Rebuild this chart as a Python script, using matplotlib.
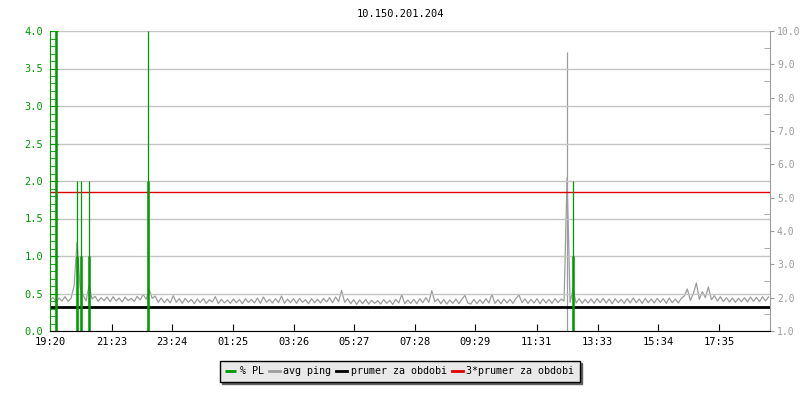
"""Packet loss / ping chart for 10.150.201.204."""

import matplotlib

matplotlib.use("Agg")
import numpy as np
from matplotlib import pyplot as plt
from matplotlib.ticker import MultipleLocator, FormatStrFormatter

TITLE = "10.150.201.204"

# x axis: minutes after 19:20
tick_minutes = [0, 123, 244, 365, 486, 607, 728, 849, 971, 1093, 1214, 1335]
tick_labels = ["19:20", "21:23", "23:24", "01:25", "03:26", "05:27",
               "07:28", "09:29", "11:31", "13:33", "15:34", "17:35"]
x_end = 1437

# % PL events (minute, average, max)
pl_minutes = [12, 54, 62, 78, 195, 1043]
pl_avg = [4.0, 1.0, 1.0, 1.0, 2.0, 1.0]
pl_max = [4.0, 2.0, 2.0, 2.0, 4.0, 2.0]

# avg ping (ms), one sample every 6 minutes
ping_step = 6
ping_ms = [
    1.92, 2.01, 1.88, 1.99, 1.90, 2.03, 1.89, 1.98, 2.35, 3.67,
    2.30, 2.08, 1.90, 2.36, 1.96, 2.04, 1.89, 2.00, 1.91, 2.02,
    1.88, 2.03, 1.90, 1.99, 1.87, 2.02, 1.91, 1.98, 1.89, 2.04,
    1.93, 2.10, 1.95, 2.24, 1.98, 2.05, 1.86, 1.99, 1.85, 1.96,
    1.84, 2.06, 1.86, 1.97, 1.83, 1.98, 1.86, 1.95, 1.82, 1.96,
    1.85, 1.97, 1.83, 1.94, 1.87, 2.03, 1.82, 1.95, 1.84, 1.93,
    1.83, 1.96, 1.85, 1.94, 1.82, 1.97, 1.86, 1.95, 1.84, 1.99,
    1.83, 2.02, 1.86, 1.95, 1.84, 1.97, 1.85, 2.05, 1.83, 1.96,
    1.85, 1.97, 1.83, 1.98, 1.86, 1.94, 1.82, 1.97, 1.85, 1.95,
    1.84, 1.98, 1.87, 2.00, 1.85, 2.02, 1.88, 2.22, 1.86, 1.97,
    1.82, 1.94, 1.80, 1.93, 1.82, 1.95, 1.81, 1.92, 1.83, 1.91,
    1.81, 1.94, 1.83, 1.92, 1.80, 1.95, 1.84, 2.09, 1.82, 1.93,
    1.83, 1.95, 1.82, 1.97, 1.85, 2.00, 1.86, 2.21, 1.88, 1.96,
    1.82, 1.94, 1.81, 1.93, 1.83, 1.96, 1.82, 1.95, 2.07, 1.84,
    1.81, 1.95, 1.82, 1.94, 1.83, 1.97, 1.84, 2.10, 1.83, 1.94,
    1.82, 1.96, 1.84, 1.95, 1.83, 1.98, 2.08, 1.85, 1.96, 1.83,
    1.95, 1.84, 1.97, 1.82, 1.96, 1.84, 1.95, 1.83, 1.97, 1.85,
    1.96, 1.90, 5.60, 1.86, 2.27, 1.84, 1.97, 1.83, 1.95, 1.84,
    1.96, 1.83, 1.97, 1.85, 1.98, 1.84, 1.96, 1.82, 1.97, 1.85,
    1.95, 1.83, 1.97, 1.84, 1.99, 1.85, 1.96, 1.83, 1.98, 1.85,
    1.96, 1.84, 1.98, 1.86, 1.97, 1.83, 1.99, 1.85, 1.96, 1.84,
    1.98, 2.05, 2.26, 1.92, 2.12, 2.44, 1.95, 2.18, 2.00, 2.32,
    1.94, 2.06, 1.90, 2.03, 1.88, 2.00, 1.87, 1.99, 1.86, 1.98,
    1.88, 2.00, 1.87, 2.02, 1.89, 2.01, 1.88, 2.03, 1.90, 2.02,
]
# thin max spikes of avg ping
ping_max_minutes = [1032]
ping_max_ms = [9.37]

ping_mean = 1.72
ping_mean3 = 5.16

GREEN = "#009900"
GREY = "#9c9c9c"
RED = "#e00000"
FONT = "DejaVu Sans Mono"
FS = 7.5


def main() -> None:
    plt.rcParams["font.family"] = FONT
    fig = plt.figure(figsize=(8, 4), dpi=100)
    ax = fig.add_axes([0.0625, 0.1725, 0.9, 0.75])
    ax2 = ax.twinx()
    ax.set_zorder(ax2.get_zorder() + 1)
    ax.patch.set_visible(False)

    # right axis: ping
    ping_x = np.arange(len(ping_ms)) * ping_step
    ax2.vlines(ping_max_minutes, 1.0, ping_max_ms, color=GREY, lw=0.9)
    ax2.plot(ping_x, ping_ms, color=GREY, lw=0.9, label="avg ping")
    ax2.axhline(ping_mean, color="black", lw=2.0, label="prumer za obdobi")
    ax2.axhline(ping_mean3, color=RED, lw=1.0, label="3*prumer za obdobi")
    ax2.set_ylim(1.0, 10.0)
    ax2.yaxis.set_major_locator(MultipleLocator(1.0))
    ax2.yaxis.set_minor_locator(MultipleLocator(0.5))
    ax2.yaxis.set_major_formatter(FormatStrFormatter("%.1f"))
    ax2.tick_params(axis="y", which="major", direction="out", length=3, color=GREY,
                    labelcolor=GREY, labelsize=7.0, pad=2)
    ax2.tick_params(axis="y", which="minor", direction="in", length=4, color=GREY)

    # left axis: % PL
    ax.vlines(pl_minutes, 0, pl_max, color=GREEN, lw=0.9)
    ax.vlines(pl_minutes, 0, pl_avg, color=GREEN, lw=1.8, label="% PL")
    ax.set_ylim(0, 4.0)
    ax.set_xlim(0, x_end)
    ax.yaxis.set_major_locator(MultipleLocator(0.5))
    ax.yaxis.set_minor_locator(MultipleLocator(0.1))
    ax.yaxis.set_major_formatter(FormatStrFormatter("%.1f"))
    ax.tick_params(axis="y", which="major", direction="in", length=6, color=GREEN,
                   labelcolor=GREEN, labelsize=FS, pad=5)
    ax.tick_params(axis="y", which="minor", direction="in", length=4, color=GREEN)
    ax.grid(True, axis="y", color="#c4c4c4", lw=1.0)
    ax.set_xticks(tick_minutes)
    ax.set_xticklabels(tick_labels)
    ax.tick_params(axis="x", direction="in", length=5, color="black", labelsize=FS, pad=4)

    for a in (ax, ax2):
        a.spines["top"].set_visible(False)
    ax.spines["left"].set_color(GREEN)
    ax2.spines["left"].set_visible(False)
    ax.spines["right"].set_visible(False)
    ax2.spines["right"].set_color(GREY)
    ax2.spines["bottom"].set_visible(False)
    ax.spines["bottom"].set_color("black")

    fig.text(0.5, 0.965, TITLE, ha="center", va="center", fontsize=FS)

    handles = ax.get_legend_handles_labels()[0] + ax2.get_legend_handles_labels()[0]
    labels = ["% PL", "avg ping", "prumer za obdobi", "3*prumer za obdobi"]
    leg = fig.legend(handles, labels, loc="center", bbox_to_anchor=(0.4995, 0.0725),
                     ncol=4, fontsize=7.2, frameon=True, fancybox=False,
                     shadow={"color": "#606060", "alpha": 1.0},
                     handlelength=1.1, handletextpad=0.35, columnspacing=0.5,
                     borderpad=0.55, borderaxespad=0)
    leg.get_frame().set_facecolor("#e8e8e8")
    leg.get_frame().set_edgecolor("black")
    leg.get_frame().set_linewidth(1.0)
    for line in leg.get_lines():
        line.set_linewidth(2.0)

    fig.savefig("out.png", dpi=100)
    plt.close(fig)


if __name__ == "__main__":
    main()
